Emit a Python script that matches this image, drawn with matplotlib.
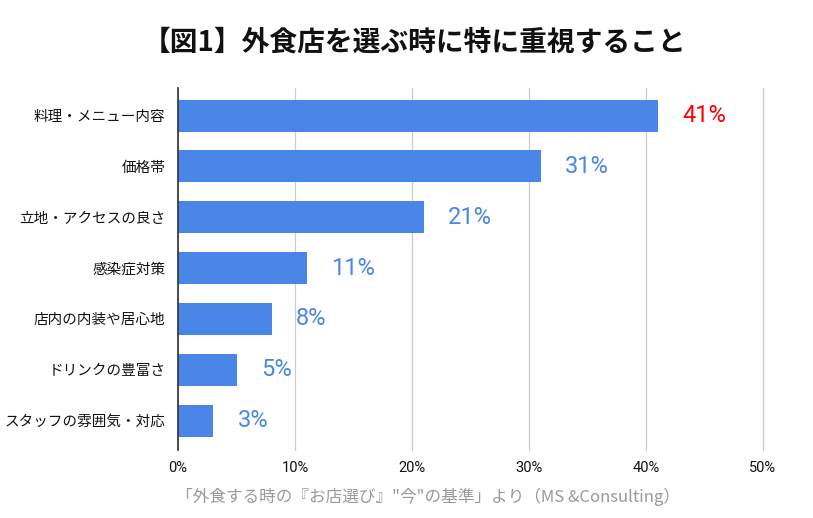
import matplotlib
matplotlib.use("Agg")
import matplotlib.pyplot as plt

plt.rcParams['font.family'] = ['Noto Sans CJK JP', 'DejaVu Sans']

# Données du graphique
categories = ["料理・メニュー内容", "価格帯", "立地・アクセスの良さ", "感染症対策",
              "店内の内装や居心地", "ドリンクの豊富さ", "スタッフの雰囲気・対応"]
valeurs = [41, 31, 21, 11, 8, 5, 3]
ticks = [0, 10, 20, 30, 40, 50]
tick_labels = ["0%", "10%", "20%", "30%", "40%", "50%"]

bleu = "#4a86e8"

fig = plt.figure(figsize=(8.13, 5.18), dpi=100)
ax = fig.add_axes([0.219, 0.131, 0.7195, 0.699])

y = list(range(len(categories)))
ax.barh(y, valeurs, height=0.63, color=bleu, zorder=3)

# Etiquettes de valeurs
for i, v in enumerate(valeurs):
    couleur = "#ff0000" if i == 0 else bleu
    ax.text(v + 2.1, i, f"{v}%", va="center", ha="left", fontsize=17,
            color=couleur, family=["Roboto", "DejaVu Sans"])

ax.set_xlim(0, 50)
ax.set_ylim(6.58, -0.54)
ax.set_yticks(y)
ax.set_yticklabels(categories, fontsize=10.5, color="#111111")
ax.set_xticks(ticks)
ax.set_xticklabels(tick_labels, fontsize=10.5, color="#111111", family=["Roboto", "DejaVu Sans"])
ax.tick_params(axis="y", length=0, pad=9)
ax.tick_params(axis="x", length=0, pad=8)

ax.grid(axis="x", color="#cccccc", linewidth=0.9, zorder=0)
for ligne in ax.get_xgridlines():
    ligne.set_clip_on(False)
for s in ["top", "right", "bottom"]:
    ax.spines[s].set_visible(False)
ax.spines["left"].set_color("#333333")
ax.spines["left"].set_linewidth(1.2)
ax.spines["left"].set_zorder(4)

fig.text(0.51, 0.918, "【図1】外食店を選ぶ時に特に重視すること", ha="center", va="center",
         fontsize=20, fontweight="bold", color="#111111")
fig.text(0.527, 0.04, "「外食する時の『お店選び』\"今\"の基準」より（MS &Consulting）",
         ha="center", va="center", fontsize=12, color="#999999")

fig.savefig("out.png", dpi=100, facecolor="white")
